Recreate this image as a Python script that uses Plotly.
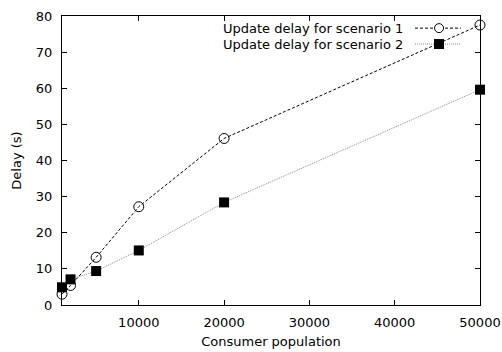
import plotly.graph_objects as go

population = [1000, 2000, 5000, 10000, 20000, 50000]
delay_s1 = [3.0, 5.4, 13.2, 27.2, 46.1, 77.5]
delay_s2 = [4.9, 7.1, 9.4, 15.1, 28.4, 59.6]
names = ["Update delay for scenario 1", "Update delay for scenario 2"]
x_ticks = [10000, 20000, 30000, 40000, 50000]
y_ticks = [0, 10, 20, 30, 40, 50, 60, 70, 80]

FONT = "DejaVu Sans, Liberation Sans, Arial, sans-serif"
FS = 13

fig = go.Figure()
fig.add_trace(go.Scatter(
    x=population, y=delay_s1, mode="lines+markers", name=names[0],
    line=dict(color="black", width=1, dash="3px,2px"),
    marker=dict(symbol="circle-open", size=10, color="black", line=dict(width=1)),
    cliponaxis=False, showlegend=False))
fig.add_trace(go.Scatter(
    x=population, y=delay_s2, mode="lines+markers", name=names[1],
    line=dict(color="#8a8a8a", width=1, dash="1px,1px"),
    marker=dict(symbol="square", size=10, color="black"),
    cliponaxis=False, showlegend=False))

# gnuplot-style legend (text then sample) at top-right inside
leg_rows = [(0.958, "3px,2px", "black", "circle-open"), (0.903, "1px,1px", "#8a8a8a", "square")]
for (yy, dash, col, sym), nm in zip(leg_rows, names):
    fig.add_annotation(x=0.8206, y=yy, xref="paper", yref="paper", text=nm,
                       showarrow=False, xanchor="right", yanchor="middle",
                       font=dict(family=FONT, size=FS, color="black"))
    fig.add_shape(type="line", xref="paper", yref="paper", x0=0.8445, x1=0.9545,
                  y0=yy, y1=yy, line=dict(color=col, width=1, dash=dash))
    if sym == "circle-open":
        fig.add_shape(type="circle", xref="paper", yref="paper",
                      x0=0.902 - 4.5 / 418, x1=0.902 + 4.5 / 418,
                      y0=yy - 4.5 / 289, y1=yy + 4.5 / 289,
                      line=dict(color="black", width=1), fillcolor="white")
    else:
        fig.add_shape(type="rect", xref="paper", yref="paper",
                      x0=0.902 - 5 / 418, x1=0.902 + 5 / 418,
                      y0=yy - 5 / 289, y1=yy + 5 / 289,
                      line=dict(color="black", width=0), fillcolor="black")

axis_common = dict(showgrid=False, zeroline=False, showline=True, linecolor="black",
                   linewidth=1, mirror="ticks", ticks="inside", ticklen=5,
                   tickcolor="black", tickwidth=1, automargin=False,
                   tickfont=dict(family=FONT, size=FS, color="black"))
fig.update_xaxes(range=[1000, 50000], tickvals=x_ticks,
                 ticktext=[str(v) for v in x_ticks], ticklabelstandoff=5,
                 title=dict(text="Consumer population", standoff=8,
                            font=dict(family=FONT, size=FS, color="black")),
                 **axis_common)
fig.update_yaxes(range=[0, 80], tickvals=y_ticks,
                 ticktext=[str(v) for v in y_ticks], ticklabelstandoff=6,
                 title=dict(text="Delay (s)", standoff=11,
                            font=dict(family=FONT, size=FS, color="black")),
                 **axis_common)
fig.update_layout(width=502, height=352, plot_bgcolor="white", paper_bgcolor="white",
                  margin=dict(l=62, r=22, t=16, b=47), showlegend=False)
fig.write_html("out.html")
